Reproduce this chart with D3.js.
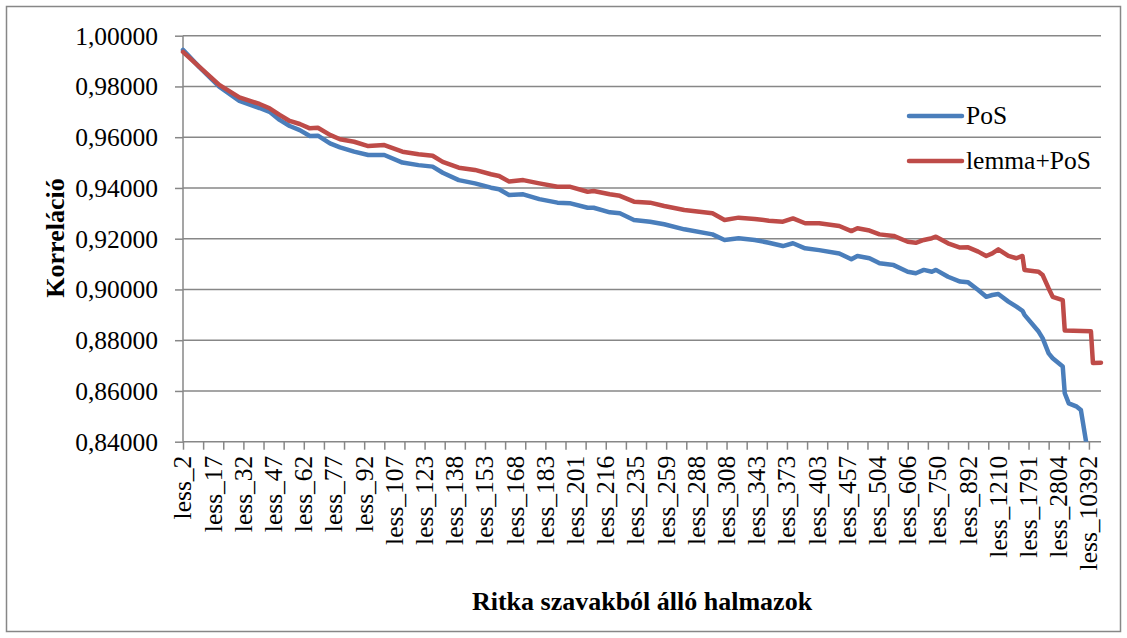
<!DOCTYPE html>
<html lang="hu"><head>
<meta charset="utf-8">
<title>Korreláció</title>
<script src="https://cdn.jsdelivr.net/npm/d3@7"></script>
<style>
body { margin: 0; background: #fff; }
svg text { font-family: "Liberation Serif", "Times New Roman", serif; fill: #000; }
</style>
</head>
<body>
<script type="text/javascript">

var width = 1127;
var height = 638;

// category labels shown on the x axis (every 15th category)
var tickLabels = ["less_2","less_17","less_32","less_47","less_62","less_77","less_92","less_107",
    "less_123","less_138","less_153","less_168","less_183","less_201","less_216","less_235",
    "less_259","less_288","less_308","less_343","less_373","less_403","less_457","less_504",
    "less_606","less_750","less_892","less_1210","less_1791","less_2804","less_10392"];
var nCategories = 456;
var yTicks = [0.84, 0.86, 0.88, 0.90, 0.92, 0.94, 0.96, 0.98, 1.00];

// PoS series (category index, value)
var posIdx = [0,8,18,28,38,43,48,53,58,63,67,73,78,85,92,100,109,117,124,129,137,145,153,157,162,169,
    177,186,192,201,204,212,217,224,232,239,249,263,269,276,284,291,298,303,309,316,326,332,335,341,
    346,353,360,364,368,372,374,380,386,390,395,399,402,405,410,414,417,418,425,427,430,432,437,438,
    440,444,446,449];
var posVal = [0.9944,0.9877,0.9799,0.9743,0.9715,0.9700,0.9668,0.9644,0.9628,0.9605,0.9606,0.9576,
    0.9560,0.9543,0.9530,0.9530,0.9500,0.9490,0.9484,0.9460,0.9431,0.9418,0.9401,0.9395,0.9372,0.9375,
    0.9356,0.9342,0.9340,0.9322,0.9322,0.9304,0.9300,0.9274,0.9267,0.9257,0.9237,0.9217,0.9195,0.9202,
    0.9195,0.9184,0.9171,0.9182,0.9162,0.9155,0.9142,0.9119,0.9132,0.9123,0.9103,0.9096,0.9070,0.9064,
    0.9077,0.9070,0.9077,0.9050,0.9031,0.9028,0.8998,0.8971,0.8978,0.8982,0.8952,0.8932,0.8916,0.8900,
    0.8834,0.8808,0.8748,0.8729,0.8696,0.8591,0.8551,0.8538,0.8525,0.8380];

// lemma+PoS series
var lemIdx = [0,8,18,28,38,43,48,53,58,63,67,73,78,85,92,100,109,117,124,129,137,145,153,157,162,169,
    177,186,192,201,204,212,217,224,232,239,249,263,269,276,284,291,298,303,309,316,326,332,335,341,
    346,353,360,364,368,372,374,380,386,390,395,399,402,405,410,414,417,418,425,427,430,432,437,438,
    451,452,456];
var lemVal = [0.9936,0.9878,0.9806,0.9757,0.9731,0.9714,0.9688,0.9664,0.9652,0.9635,0.9637,0.9609,
    0.9592,0.9582,0.9565,0.9569,0.9543,0.9533,0.9527,0.9503,0.9480,0.9471,0.9454,0.9447,0.9425,0.9431,
    0.9418,0.9405,0.9405,0.9385,0.9388,0.9375,0.9369,0.9346,0.9342,0.9329,0.9313,0.9300,0.9274,0.9283,
    0.9278,0.9271,0.9267,0.9280,0.9261,0.9261,0.9250,0.9230,0.9241,0.9232,0.9217,0.9211,0.9188,0.9184,
    0.9195,0.9202,0.9208,0.9182,0.9165,0.9166,0.9149,0.9132,0.9142,0.9158,0.9132,0.9123,0.9132,0.9077,
    0.9070,0.9057,0.9004,0.8971,0.8958,0.8838,0.8835,0.8710,0.8711];

var seriesNames = ["PoS", "lemma+PoS"];
var seriesColors = ["#4A7EBB", "#BE4B48"];

var plotLeft = 183, plotRight = 1101, plotTop = 35.7, plotBottom = 441.7;
var gray = "#878787";

var svg = d3.select("body").append("svg")
    .attr("width", width)
    .attr("height", height);

svg.append("rect")
    .attr("x", 6.5).attr("y", 6.5)
    .attr("width", 1114).attr("height", 625)
    .attr("fill", "#fff")
    .attr("stroke", gray)
    .attr("stroke-width", 1.5);

var x = d3.scaleLinear().domain([0, nCategories]).range([plotLeft, plotRight]);
var y = d3.scaleLinear().domain([0.84, 1.0]).range([plotBottom, plotTop]);

// gridlines
svg.append("g").selectAll("line")
    .data(yTicks.slice(1))
    .enter().append("line")
    .attr("x1", plotLeft).attr("x2", plotRight)
    .attr("y1", d => y(d)).attr("y2", d => y(d))
    .attr("stroke", gray).attr("stroke-width", 1.5);

// y axis
var yAxis = svg.append("g")
    .attr("transform", "translate(" + plotLeft + ",0)")
    .call(d3.axisLeft(y).tickValues(yTicks).tickSize(8).tickPadding(17)
        .tickFormat(d => d3.format(".5f")(d).replace(".", ",")));
yAxis.attr("font-family", null).attr("font-size", null);
yAxis.selectAll("line, path").attr("stroke", gray).attr("stroke-width", 1.5);
yAxis.select("path").attr("d", "M0," + plotTop + "V" + plotBottom);
yAxis.selectAll("text").style("font-size", "25.5px").attr("dy", "0.33em");

// x axis
var xAxis = svg.append("g")
    .attr("transform", "translate(0," + plotBottom + ")")
    .call(d3.axisBottom(x).tickValues(d3.range(0, 451, 10)).tickSize(8).tickFormat(""));
xAxis.selectAll("line, path").attr("stroke", gray).attr("stroke-width", 1.5);
xAxis.select("path").attr("d", "M" + plotLeft + ",0H" + plotRight);

svg.append("g").selectAll("text")
    .data(tickLabels)
    .enter().append("text")
    .attr("transform", (d, i) => "translate(" + x(i * 15) + "," + (plotBottom + 14) + ") rotate(-90)")
    .attr("text-anchor", "end")
    .attr("dy", "0.33em")
    .style("font-size", "25.5px")
    .text(d => d);

// lines
svg.append("clipPath").attr("id", "plot")
    .append("rect").attr("x", plotLeft - 5).attr("y", plotTop - 5)
    .attr("width", plotRight - plotLeft + 10).attr("height", plotBottom - plotTop + 5);

var line = d3.line().x(d => x(d[0])).y(d => y(d[1]));
var seriesData = [
    d3.zip(posIdx, posVal),
    d3.zip(lemIdx, lemVal)
];

svg.append("g").attr("clip-path", "url(#plot)")
    .selectAll("path")
    .data(seriesData)
    .enter().append("path")
    .attr("d", line)
    .attr("fill", "none")
    .attr("stroke", (d, i) => seriesColors[i])
    .attr("stroke-width", 4.5)
    .attr("stroke-linejoin", "round")
    .attr("stroke-linecap", "round");

// legend
var legend = svg.append("g").selectAll("g")
    .data(seriesNames)
    .enter().append("g")
    .attr("transform", (d, i) => "translate(909," + (116 + i * 45) + ")");
legend.append("line")
    .attr("x1", 0).attr("x2", 53)
    .attr("stroke", (d, i) => seriesColors[i])
    .attr("stroke-width", 4.5)
    .attr("stroke-linecap", "round");
legend.append("text")
    .attr("x", 57).attr("dy", "0.33em")
    .style("font-size", "25.5px")
    .text(d => d);

// axis titles
svg.append("text")
    .attr("transform", "translate(55,238) rotate(-90)")
    .attr("text-anchor", "middle")
    .attr("dy", "0.33em")
    .style("font-size", "26px").style("font-weight", "bold")
    .text("Korreláció");

svg.append("text")
    .attr("x", 642).attr("y", 601)
    .attr("text-anchor", "middle")
    .attr("dy", "0.33em")
    .style("font-size", "26px").style("font-weight", "bold")
    .text("Ritka szavakból álló halmazok");

</script>
</body></html>
